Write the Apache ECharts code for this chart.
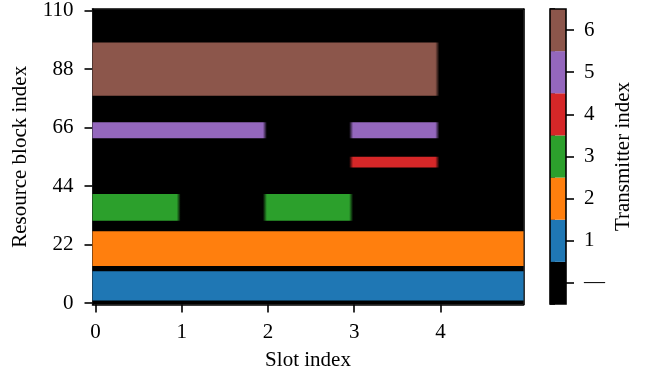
<!DOCTYPE html>
<html>
<head>
<meta charset="utf-8">
<script src="https://cdn.jsdelivr.net/npm/echarts@6/dist/echarts.min.js"></script>
<style>
  html, body { margin: 0; padding: 0; background: #ffffff; }
  #chart { width: 660px; height: 379px; }
</style>
</head>
<body>
<div id="chart"></div>
<script>
// Transmitter legend: index 0 means "no transmission"
const transmitterLabels = ['\u2014', '1', '2', '3', '4', '5', '6'];
const transmitterColors = ['#000000', '#1f77b4', '#ff7f0e', '#2ca02c', '#d62728', '#9467bd', '#8c564b'];

// Resource allocations, one entry per contiguous block
const allocTx       = [1, 2, 3, 3, 4, 5, 5, 6];
const allocSlotFrom = [0, 0, 0, 2, 3, 0, 3, 0];
const allocSlotTo   = [5, 5, 1, 3, 4, 2, 4, 4];
const allocRbFrom   = [1, 14, 31, 31, 51, 62, 62, 78];
const allocRbTo     = [12, 27, 41, 41, 55, 68, 68, 98];

const slotTicks = [0, 1, 2, 3, 4];
const rbTicks = [0, 22, 44, 66, 88, 110];

const numSlots = 5;
const numRb = 110;
const symbolsPerSlot = 14;
// the resource grid is sampled per OFDM symbol, centred on the symbol
const halfSymbol = 0.5 / symbolsPerSlot;

const FONT = 'Liberation Serif';
const LINE_W = 1.6;

function withAlpha(hex, a) {
  const n = parseInt(hex.slice(1), 16);
  return 'rgba(' + ((n >> 16) & 255) + ',' + ((n >> 8) & 255) + ',' + (n & 255) + ',' + a + ')';
}

const blocks = allocTx.map((tx, i) => [allocSlotFrom[i], allocSlotTo[i], allocRbFrom[i], allocRbTo[i], tx]);

// slot boundaries inside the grid are smoothed by image resampling
const FADE = 2;
function renderBlock(params, api) {
  const s0 = api.value(0), s1 = api.value(1);
  const r0 = api.value(2), r1 = api.value(3);
  const color = transmitterColors[api.value(4)];
  const pTop = api.coord([s0 - halfSymbol, r1]);
  const pBot = api.coord([s1 - halfSymbol, r0]);
  const softL = s0 > 0, softR = s1 < numSlots;
  let x = pTop[0], w = pBot[0] - pTop[0];
  if (softL) { x -= FADE; w += FADE; }
  if (softR) { w += FADE; }
  const clear = withAlpha(color, 0);
  const stops = [];
  if (softL) { stops.push({ offset: 0, color: clear }, { offset: 2 * FADE / w, color: color }); }
  else { stops.push({ offset: 0, color: color }); }
  if (softR) { stops.push({ offset: 1 - 2 * FADE / w, color: color }, { offset: 1, color: clear }); }
  else { stops.push({ offset: 1, color: color }); }
  return {
    type: 'rect',
    shape: { x: x, y: pTop[1], width: w, height: pBot[1] - pTop[1] },
    style: { fill: { type: 'linear', x: 0, y: 0, x2: 1, y2: 0, colorStops: stops } }
  };
}

const txt = { fontFamily: FONT, fontSize: 21, color: '#000' };
const blackLine = { color: '#000', width: LINE_W };

const chart = echarts.init(document.getElementById('chart'), null, { renderer: 'canvas' });
chart.setOption({
  animation: false,
  backgroundColor: '#ffffff',
  grid: [
    { left: 92.5, top: 9, width: 431, height: 295.5, show: true, backgroundColor: '#000', borderWidth: 0 },
    { left: 550, top: 9, width: 16, height: 295, show: true, backgroundColor: 'transparent', borderColor: '#000', borderWidth: LINE_W, z: 5 }
  ],
  xAxis: [
    {
      gridIndex: 0, type: 'value', min: -halfSymbol, max: numSlots - halfSymbol,
      axisLine: { show: true, onZero: false, lineStyle: blackLine },
      axisTick: { show: true, length: 8, lineStyle: blackLine, customValues: slotTicks },
      axisLabel: Object.assign({ margin: 17, customValues: slotTicks }, txt),
      splitLine: { show: false },
      name: 'Slot index', nameLocation: 'middle', nameGap: 45, nameTextStyle: txt
    },
    {
      gridIndex: 0, type: 'value', position: 'top', min: -halfSymbol, max: numSlots - halfSymbol,
      axisLine: { show: true, onZero: false, lineStyle: blackLine },
      axisTick: { show: false }, axisLabel: { show: false }, splitLine: { show: false }
    },
    { gridIndex: 1, type: 'value', min: 0, max: 1, show: false }
  ],
  yAxis: [
    {
      gridIndex: 0, type: 'value', min: -0.5, max: numRb + 0.5,
      axisLine: { show: true, onZero: false, lineStyle: blackLine },
      axisTick: { show: true, length: 8, lineStyle: blackLine, customValues: rbTicks },
      axisLabel: Object.assign({ margin: 19, customValues: rbTicks }, txt),
      splitLine: { show: false },
      name: 'Resource block index', nameLocation: 'middle', nameGap: 62, nameRotate: 90, nameTextStyle: txt
    },
    {
      gridIndex: 0, type: 'value', position: 'right', min: -0.5, max: numRb + 0.5,
      axisLine: { show: true, onZero: false, lineStyle: blackLine },
      axisTick: { show: false }, axisLabel: { show: false }, splitLine: { show: false }
    },
    {
      // colour bar: minor ticks at the segment boundaries
      gridIndex: 1, type: 'category', position: 'right', data: transmitterLabels,
      axisLine: { show: false },
      axisTick: { show: true, length: 5, interval: 0, alignWithLabel: false, lineStyle: blackLine },
      axisLabel: { show: false }, splitLine: { show: false }
    },
    {
      // colour bar: labelled ticks at the segment centres
      gridIndex: 1, type: 'category', position: 'right', data: transmitterLabels,
      axisLine: { show: false },
      axisTick: { show: true, length: 8, interval: 0, alignWithLabel: true, lineStyle: blackLine },
      axisLabel: Object.assign({ margin: 18, interval: 0 }, txt),
      splitLine: { show: false },
      name: 'Transmitter index', nameLocation: 'middle', nameGap: 46.5, nameRotate: 90, nameTextStyle: txt
    }
  ],
  series: [
    {
      type: 'custom', xAxisIndex: 0, yAxisIndex: 0,
      renderItem: renderBlock,
      data: blocks,
      encode: { x: [0, 1], y: [2, 3] }
    },
    {
      type: 'bar', xAxisIndex: 2, yAxisIndex: 2,
      barWidth: '100%',
      data: transmitterLabels.map((_, i) => ({ value: 1, itemStyle: { color: transmitterColors[i] } }))
    }
  ]
});
</script>
</body>
</html>
